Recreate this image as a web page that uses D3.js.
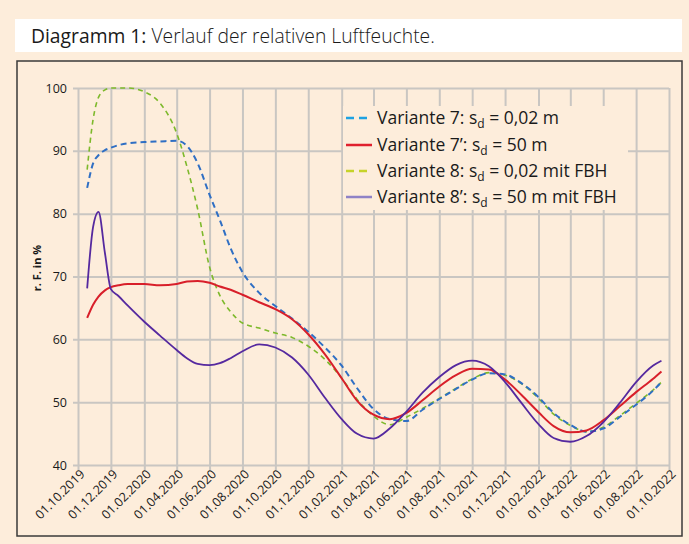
<!DOCTYPE html>
<html><head><meta charset="utf-8">
<script src="https://cdn.jsdelivr.net/npm/d3@7"></script>
<style>
html,body{margin:0;padding:0;background:#fdeddb;}
svg{display:block;}
text{font-family:"Open Sans","Noto Sans",sans-serif;fill:#1a1a1a;}
</style></head><body>
<svg id="c" width="689" height="544"></svg>
<script>
// ---------- data ----------
const dates = ["2019-10-18","2019-10-29","2019-11-08","2019-11-20","2019-12-01","2019-12-15",
"2020-01-01","2020-02-01","2020-03-01","2020-04-01","2020-04-20","2020-05-10","2020-06-01","2020-06-20",
"2020-07-10","2020-08-01","2020-09-01","2020-10-01","2020-11-01","2020-12-01",
"2021-01-01","2021-02-01","2021-03-01","2021-04-01","2021-05-01","2021-06-01","2021-07-01","2021-08-01",
"2021-09-01","2021-10-01","2021-11-01","2021-12-01",
"2022-01-01","2022-02-01","2022-03-01","2022-04-01","2022-05-01","2022-06-01","2022-07-01","2022-08-01",
"2022-09-01","2022-09-17"];

const variante7 = [84.1,88,89.3,90.1,90.5,90.9,91.2,91.4,91.5,91.6,90.8,88,83,79,74.5,70.7,67.4,65.3,63.3,61.2,
58.7,55.8,52.3,48.9,47.3,47,48.8,50.5,52.1,53.6,54.6,54.4,53.0,50.8,48.3,46.4,45.3,45.8,47.6,49.6,51.8,53.2];

const variante7s = [63.4,65.5,66.8,67.8,68.3,68.6,68.8,68.8,68.6,68.8,69.2,69.3,69.0,68.4,67.9,67.1,65.9,64.8,63.2,60.8,
57.6,53.8,50.3,48,47.3,48.3,50.3,52.5,54.3,55.3,55.2,53.6,51.1,48.4,46.2,45.2,45.5,47.1,49.3,51.6,53.7,54.9];

const variante8 = [87,95,98.5,99.7,100,100,100,99.4,97.6,92.8,87.5,80.7,71.5,67,64.4,62.6,61.8,61.0,60.3,58.9,
56.8,53.8,50.5,47.8,46.4,47.6,49,50.6,52.2,53.7,54.7,54.3,52.9,50.6,48.1,46.3,45.3,46,47.8,49.8,51.9,53.2];

const variante8s = [68.1,77.9,80.3,73.7,68.0,66.9,65.4,62.8,60.6,58.3,57,56.1,55.9,56.2,57,58.1,59.2,58.7,57.1,54.4,
50.7,47.3,45,44.2,45.8,48.5,51.5,54,55.9,56.6,55.7,53.2,49.8,46.5,44.3,43.7,44.6,46.8,49.8,53.2,55.8,56.6];

const xTickLabels = ["01.10.2019","01.12.2019","01.02.2020","01.04.2020","01.06.2020","01.08.2020","01.10.2020",
"01.12.2020","01.02.2021","01.04.2021","01.06.2021","01.08.2021","01.10.2021","01.12.2021","01.02.2022",
"01.04.2022","01.06.2022","01.08.2022","01.10.2022"];
const yTicks = [40,50,60,70,80,90,100];

const seriesNames = ["Variante 7: s","Variante 7’: s","Variante 8: s","Variante 8’: s"];
const seriesTails = [" = 0,02 m"," = 50 m"," = 0,02 mit FBH"," = 50 m mit FBH"];

// ---------- layout ----------
const svg = d3.select("#c");
const parseIso = d3.timeParse("%Y-%m-%d");
const parseTick = d3.timeParse("%d.%m.%Y");
const X0 = 78, X1 = 669, Y0 = 465, Y1 = 88;

svg.append("rect").attr("x",0).attr("y",0).attr("width",689).attr("height",544).attr("fill","#fdeddb");
svg.append("rect").attr("x",15).attr("y",19).attr("width",667).attr("height",33).attr("fill","#ffffff");
const title = svg.append("text").attr("x",31).attr("y",43).style("font-size","19.3px");
title.append("tspan").text("Diagramm 1:").style("font-weight","500");
title.append("tspan").text(" Verlauf der relativen Luftfeuchte.").style("font-weight","300");

svg.append("rect").attr("x",17).attr("y",61).attr("width",665).attr("height",475)
  .attr("fill","#fdeddb").attr("stroke","#3a3a3a").attr("stroke-width",1.5);

const x = d3.scaleTime().domain([parseTick(xTickLabels[0]), parseTick(xTickLabels[xTickLabels.length-1])]).range([X0,X1]);
const y = d3.scaleLinear().domain([40,100]).range([Y0,Y1]);

const gridColor = "#c9c6c2";
const yAxis = svg.append("g").attr("transform",`translate(${X0},0)`)
  .call(d3.axisLeft(y).tickValues(yTicks).tickSize(-(X1-X0)).tickPadding(10));
yAxis.select(".domain").remove();
yAxis.selectAll(".tick line").attr("stroke",gridColor).attr("stroke-width",2).attr("x1",-5);
yAxis.selectAll(".tick text").style("font-size","12.5px").style("font-family","'Open Sans',sans-serif").attr("fill","#1a1a1a").attr("x",-11);

const xAxis = svg.append("g").attr("transform",`translate(0,${Y0})`)
  .call(d3.axisBottom(x).tickValues(xTickLabels.map(parseTick)).tickFormat(d3.timeFormat("%d.%m.%Y")).tickSize(-(Y0-Y1)));
xAxis.select(".domain").remove();
xAxis.selectAll(".tick line").attr("stroke",gridColor).attr("stroke-width",2).attr("y1",5);
xAxis.selectAll(".tick text")
  .style("font-size","12.5px").style("font-family","'Open Sans',sans-serif").attr("fill","#1a1a1a")
  .attr("text-anchor","end").attr("x",0).attr("y",0).attr("dy",0)
  .attr("transform","translate(7,10) rotate(-45)");

svg.append("text").attr("transform","translate(41,268) rotate(-90)")
  .attr("text-anchor","middle").style("font-size","11px").style("font-weight","700").text("r. F. in %");

// ---------- lines ----------
const styles = [
  {data:variante7, color:"#2f6fc4", legend:"#1ea2e2", width:2, dash:"6,4"},
  {data:variante7s, color:"#d81f2a", legend:"#e0202e", width:2, dash:null},
  {data:variante8, color:"#7db92b", legend:"#c6d32a", width:1.6, dash:"5,4"},
  {data:variante8s, color:"#55299f", legend:"#8f82c6", width:1.8, dash:null}
];
const line = d3.line().x((d,i)=>x(parseIso(dates[i]))).y(d=>y(d)).curve(d3.curveMonotoneX);
[2,0,1,3].forEach(k=>{
  const s = styles[k];
  svg.append("path").datum(s.data).attr("d",line).attr("fill","none")
    .attr("stroke",s.color).attr("stroke-width",s.width)
    .attr("stroke-dasharray",s.dash).attr("stroke-linejoin","round");
});

// ---------- legend ----------
const lg = svg.append("g");
lg.append("rect").attr("x",343).attr("y",106).attr("width",285).attr("height",104).attr("fill","#fdeddb");
const ly = [118,145,171,197];
styles.forEach((s,i)=>{
  lg.append("line").attr("x1",346).attr("x2",372).attr("y1",ly[i]).attr("y2",ly[i])
    .attr("stroke",s.legend).attr("stroke-width",2.5).attr("stroke-dasharray",s.dash?"8,5":null);
  const t = lg.append("text").attr("x",377).attr("y",ly[i]+6).style("font-size","17.5px");
  t.append("tspan").text(seriesNames[i]);
  t.append("tspan").text("d").attr("dy",4).style("font-size","12px");
  t.append("tspan").text(seriesTails[i]).attr("dy",-4);
});
</script>
</body></html>
